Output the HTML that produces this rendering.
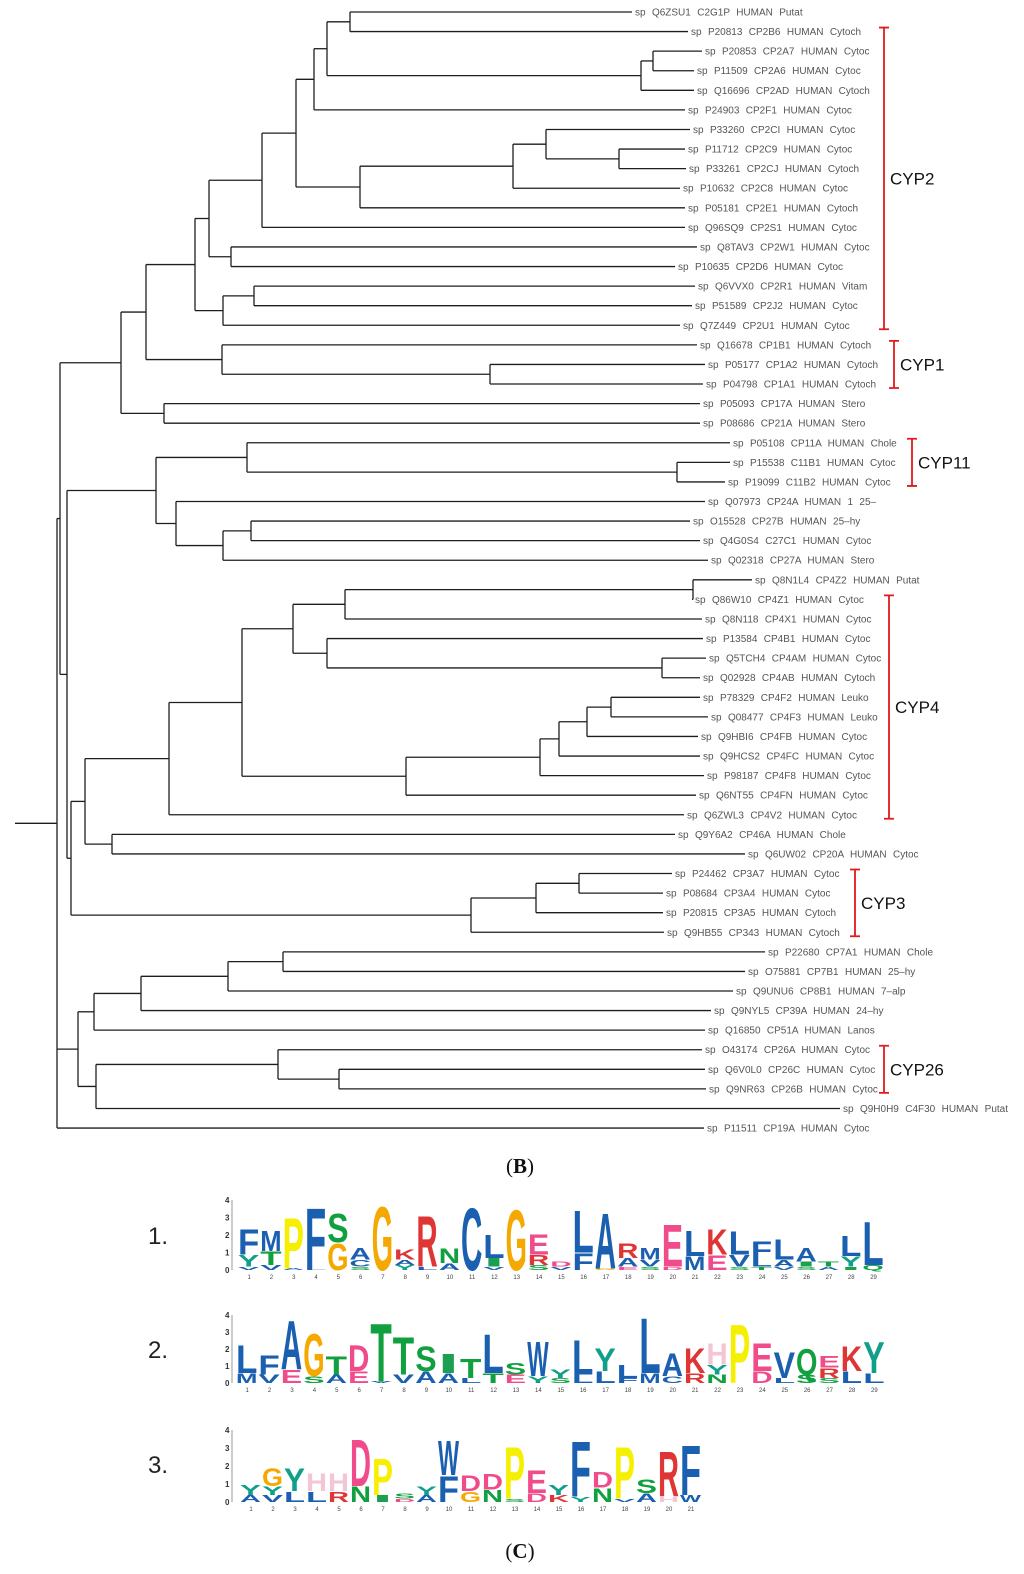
<!DOCTYPE html>
<html><head><meta charset="utf-8"><style>
html,body{margin:0;padding:0;background:#fff;}
svg{display:block;}
.lbl{font-family:"Liberation Sans",sans-serif;font-size:10px;fill:#555;word-spacing:3.6px;}
.clade{font-family:"Liberation Sans",sans-serif;font-size:17px;fill:#111;}
.cap{font-family:"Liberation Serif",serif;font-size:21px;fill:#111;}
.num{font-family:"Liberation Sans",sans-serif;font-size:24px;fill:#222;}
.lt{font-family:"Liberation Sans",sans-serif;font-weight:bold;font-size:100px;}
</style></head><body>
<svg id="fig" width="1024" height="1574" viewBox="0 0 1024 1574" xmlns="http://www.w3.org/2000/svg">
<g id="tree"></g>
<g id="clades"></g>
<text class="cap" x="520" y="1173" text-anchor="middle">(<tspan font-weight="bold">B</tspan>)</text>
<text class="num" x="148" y="1244">1.</text>
<text class="num" x="148" y="1358">2.</text>
<text class="num" x="148" y="1473">3.</text>
<g id="logos"></g>
<text class="cap" x="520" y="1558" text-anchor="middle">(<tspan font-weight="bold">C</tspan>)</text>
</svg>
<script>
// ---- tree data ----
const leafNames = [
"sp Q6ZSU1 C2G1P HUMAN Putat","sp P20813 CP2B6 HUMAN Cytoch","sp P20853 CP2A7 HUMAN Cytoc","sp P11509 CP2A6 HUMAN Cytoc",
"sp Q16696 CP2AD HUMAN Cytoch","sp P24903 CP2F1 HUMAN Cytoc","sp P33260 CP2CI HUMAN Cytoc","sp P11712 CP2C9 HUMAN Cytoc",
"sp P33261 CP2CJ HUMAN Cytoch","sp P10632 CP2C8 HUMAN Cytoc","sp P05181 CP2E1 HUMAN Cytoch","sp Q96SQ9 CP2S1 HUMAN Cytoc",
"sp Q8TAV3 CP2W1 HUMAN Cytoc","sp P10635 CP2D6 HUMAN Cytoc","sp Q6VVX0 CP2R1 HUMAN Vitam","sp P51589 CP2J2 HUMAN Cytoc",
"sp Q7Z449 CP2U1 HUMAN Cytoc","sp Q16678 CP1B1 HUMAN Cytoch","sp P05177 CP1A2 HUMAN Cytoch","sp P04798 CP1A1 HUMAN Cytoch",
"sp P05093 CP17A HUMAN Stero","sp P08686 CP21A HUMAN Stero","sp P05108 CP11A HUMAN Chole","sp P15538 C11B1 HUMAN Cytoc",
"sp P19099 C11B2 HUMAN Cytoc","sp Q07973 CP24A HUMAN 1 25–","sp O15528 CP27B HUMAN 25–hy","sp Q4G0S4 C27C1 HUMAN Cytoc",
"sp Q02318 CP27A HUMAN Stero","sp Q8N1L4 CP4Z2 HUMAN Putat","sp Q86W10 CP4Z1 HUMAN Cytoc","sp Q8N118 CP4X1 HUMAN Cytoc",
"sp P13584 CP4B1 HUMAN Cytoc","sp Q5TCH4 CP4AM HUMAN Cytoc","sp Q02928 CP4AB HUMAN Cytoch","sp P78329 CP4F2 HUMAN Leuko",
"sp Q08477 CP4F3 HUMAN Leuko","sp Q9HBI6 CP4FB HUMAN Cytoc","sp Q9HCS2 CP4FC HUMAN Cytoc","sp P98187 CP4F8 HUMAN Cytoc",
"sp Q6NT55 CP4FN HUMAN Cytoc","sp Q6ZWL3 CP4V2 HUMAN Cytoc","sp Q9Y6A2 CP46A HUMAN Chole","sp Q6UW02 CP20A HUMAN Cytoc",
"sp P24462 CP3A7 HUMAN Cytoc","sp P08684 CP3A4 HUMAN Cytoc","sp P20815 CP3A5 HUMAN Cytoch","sp Q9HB55 CP343 HUMAN Cytoch",
"sp P22680 CP7A1 HUMAN Chole","sp O75881 CP7B1 HUMAN 25–hy","sp Q9UNU6 CP8B1 HUMAN 7–alp","sp Q9NYL5 CP39A HUMAN 24–hy",
"sp Q16850 CP51A HUMAN Lanos","sp O43174 CP26A HUMAN Cytoc","sp Q6V0L0 CP26C HUMAN Cytoc","sp Q9NR63 CP26B HUMAN Cytoc",
"sp Q9H0H9 C4F30 HUMAN Putat","sp P11511 CP19A HUMAN Cytoc"];
// cumulative distance of each leaf from the root stub
const leafDist = [617,673,687,679,679,670,675,670,671,665,670,670,682,660,680,677,665,682,690,688,685,685,715,715,710,690,675,685,693,737,677,687,688,691,685,685,693,683,685,689,681,669,660,730,657,648,648,649,750,730,718,696,690,687,690,691,825,689];
function N(d,...c){return {d:d,c:c};}
const treeData = N(42,
  N(45,
    N(106,
      N(131,
        N(180,
          N(194,
            N(247,
              N(281,
                N(299, N(312, N(335,0,1), N(626,N(638,2,3),4)), 5),
                N(345, N(498, N(531,6,N(604,7,8)),9),10)
              ),11),
            N(216,12,13)),
          N(208, N(239,14,15),16)),
        N(207,17,N(475,18,19))),
      N(149,20,21)),
    N(52,
      N(141,
        N(232,22,N(662,23,24)),
        N(161,25,N(208,N(236,26,27),28))),
      N(56,
        N(70,
          N(154,
            N(227,
              N(278, N(330,N(678,29,30),31), N(312,32,N(647,33,34))),
              N(391, N(525,N(544,N(572,N(596,35,36),37),38),39),40)
            ),41),
          N(97,42,43)),
        N(456, N(521,N(564,44,45),46),47)))),
  N(63,
    N(79, N(126, N(213, N(268,48,49),50),51),52),
    N(81, N(263,53,N(324,54,55)),56)),
  57);
const clades = [["CYP2",1,16,884],["CYP1",17,19,894],["CYP11",22,24,912],["CYP4",30,41,889],["CYP3",44,47,855],["CYP26",53,55,884]];

// ---- logo data ----
const logo1Stacks = [[["F",1.5],["Y",0.7],["V",0.2]],[["M",1.2],["T",0.8],["V",0.3]],[["P",3.0],["A",0.1]],[["F",3.6],["L",0.1]],[["S",1.7],["G",1.6]],[["A",0.7],["C",0.4],["S",0.2]],[["G",3.8]],[["K",0.6],["Y",0.3],["A",0.3]],[["R",3.0],["L",0.2]],[["N",0.9],["A",0.4]],[["C",3.7]],[["L",1.4],["I",0.5],["V",0.2]],[["G",3.6]],[["E",1.2],["R",0.6],["S",0.3]],[["D",0.3],["V",0.2]],[["L",2.5],["F",1.0]],[["A",3.3],["G",0.1]],[["R",0.9],["A",0.5],["E",0.2]],[["M",0.7],["V",0.4],["S",0.2]],[["E",2.5],["D",0.2]],[["L",1.5],["M",0.8]],[["K",1.5],["E",0.9]],[["L",1.4],["V",0.7],["S",0.2]],[["F",1.0],["L",0.5],["T",0.2]],[["L",1.2],["A",0.4],["V",0.2]],[["A",0.8],["I",0.3],["S",0.2]],[["T",0.3],["A",0.2]],[["L",1.2],["Y",0.6],["I",0.2]],[["L",2.6],["Q",0.3]]];
const logo2Stacks = [[["L",1.7],["M",0.6]],[["F",1.2],["V",0.5]],[["A",3.0],["E",0.8]],[["G",2.6],["S",0.4]],[["T",1.1],["A",0.5]],[["D",1.6],["E",0.7]],[["T",3.6],["V",0.1]],[["T",2.3],["V",0.5]],[["S",1.5],["A",0.7]],[["I",1.2],["A",0.6]],[["T",1.2],["L",0.3]],[["L",2.4],["T",0.6]],[["S",0.7],["E",0.5]],[["W",2.1],["Y",0.4]],[["Y",0.5],["S",0.3]],[["L",2.1],["L",0.5]],[["Y",1.4],["L",0.7]],[["L",0.8],["F",0.3]],[["L",3.4],["M",0.6]],[["A",1.4],["C",0.4]],[["K",1.5],["R",0.6]],[["H",1.3],["Y",0.6],["N",0.5]],[["P",3.6]],[["E",1.7],["D",0.7]],[["V",1.6],["L",0.3]],[["Q",1.6],["S",0.5]],[["E",0.7],["R",0.6],["S",0.3]],[["K",1.5],["L",0.7]],[["Y",1.9],["L",0.6]]];
const logo3Stacks = [[["Y",0.6],["A",0.4]],[["G",1.0],["Y",0.5],["V",0.4]],[["Y",1.3],["L",0.6]],[["H",1.0],["L",0.6]],[["H",1.0],["R",0.6]],[["D",2.7],["N",0.9]],[["P",2.1],["I",0.4]],[["S",0.3],["D",0.2]],[["Y",0.5],["A",0.4]],[["W",2.0],["F",1.5]],[["D",0.9],["G",0.6]],[["D",0.9],["N",0.7]],[["P",3.0],["S",0.2]],[["E",1.3],["D",0.5]],[["Y",0.6],["K",0.4]],[["F",3.2],["Y",0.3]],[["D",0.9],["N",0.8]],[["P",3.0],["V",0.2]],[["S",0.8],["A",0.5]],[["R",2.6],["H",0.3]],[["F",2.9],["W",0.4]]];
const aaColors = {A:"#1a5fb0",V:"#1a5fb0",L:"#1a5fb0",M:"#1a5fb0",F:"#1a5fb0",W:"#1a5fb0",C:"#1a5fb0",I:"#1aa050",
  P:"#f5f000",G:"#f5a800",S:"#10a040",T:"#10a040",N:"#10a040",Q:"#10a040",Y:"#10a08a",H:"#f2c6d6",K:"#e03535",R:"#e03535",D:"#f04c8c",E:"#f04c8c"};

const NS="http://www.w3.org/2000/svg";
function mk(tag,attrs,parent){const e=document.createElementNS(NS,tag);for(const k in attrs)e.setAttribute(k,attrs[k]);parent.appendChild(e);return e;}

const X0=15, Y0=12, ROW=19.58;
const xS = d => X0 + d;
const yS = i => Y0 + i*ROW;
const tree=document.getElementById('tree');
const stroke={stroke:"#1e1e1e","stroke-width":"1.3",fill:"none"};
function layout(n){
  if(typeof n==="number") return {y:yS(n), x:xS(leafDist[n])};
  const ys=n.c.map(layout);
  const x=xS(n.d);
  const y0=Math.min(...ys.map(o=>o.y)), y1=Math.max(...ys.map(o=>o.y));
  const v=mk('line',Object.assign({x1:x,x2:x,y1:y0,y2:y1},stroke),tree);
  
  
  ys.forEach(o=>{
    const h=mk('line',Object.assign({x1:x,x2:o.x,y1:o.y,y2:o.y},stroke),tree);
    
    
  });
  const ym=(ys[0].y+ys[ys.length-1].y)/2;
  return {x:x,y:ym};
}
const rootPos=layout(treeData);
const stub=mk('line',Object.assign({x1:X0,x2:rootPos.x,y1:rootPos.y,y2:rootPos.y},stroke),tree);


leafNames.forEach((nm,i)=>{
  const t=mk('text',{class:"lbl",x:xS(leafDist[i])+3,y:yS(i)+3.5},tree);
  t.textContent=nm;
  
  
});
const cg=document.getElementById('clades');
clades.forEach(c=>{
  const x=c[3], ya=yS(c[1])-4, yb=yS(c[2])+4;
  const p=mk('path',{d:`M${x-5},${ya}H${x+5}M${x},${ya}V${yb}M${x-5},${yb}H${x+5}`,stroke:"#e41a1a","stroke-width":"1.8",fill:"none"},cg);
  
  
  const t=mk('text',{class:"clade",x:x+6,y:(ya+yb)/2+6},cg);
  t.textContent=c[0];
  
  
});

const lg=document.getElementById('logos');
function drawLogo(stacks,axisX,x0,colW,base,bitPx,name){
  const g=mk('g',{},lg);
  
  
  const ax=mk('line',{x1:axisX,x2:axisX,y1:base,y2:base-4*bitPx,stroke:"#999","stroke-width":"1"},g);
  
  
  for(let b=0;b<=4;b++){
    const t=mk('text',{x:axisX-7,y:base-b*bitPx+3,"font-size":"8","font-family":"Liberation Sans,sans-serif","font-weight":"bold",fill:"#333"},g);
    t.textContent=String(b);
    
    
  }
  stacks.forEach((st,i)=>{
    const sorted=st.slice().sort((a,b)=>a[1]-b[1]);
    let y=base;
    const x=x0+i*colW;
    sorted.forEach(([aa,h])=>{
      const hp=h*bitPx;
      const t=mk('text',{class:"lt",x:0,y:0,textLength:colW-1,lengthAdjust:"spacingAndGlyphs",fill:aaColors[aa]||"#333",
        transform:`translate(${x},${y}) scale(1,${hp/72.9})`},g);
      t.textContent=aa;
      
      
      y-=hp;
    });
    const tk=mk('text',{x:x+colW/2,y:base+9,"font-size":"6","text-anchor":"middle","font-family":"Liberation Sans,sans-serif",fill:"#444"},g);
    tk.textContent=String(i+1);
    
    
  });
}
drawLogo(logo1Stacks,232,238,22.3,1270,17.5,"logo-1");
drawLogo(logo2Stacks,232,236,22.4,1383,17,"logo-2");
drawLogo(logo3Stacks,232,240,22.0,1502,18,"logo-3");
</script>
</body></html>
